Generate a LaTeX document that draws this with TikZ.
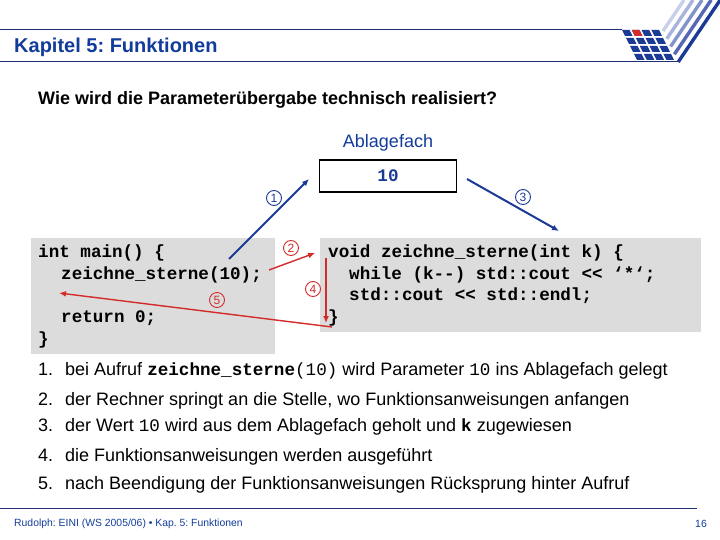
\documentclass[tikz,border=0pt]{standalone}
\usepackage{fontspec}
\setmainfont{Liberation Sans}
\setmonofont{Liberation Mono}
\usetikzlibrary{arrows.meta}
\frenchspacing
\definecolor{kapblau}{HTML}{123C9C}
\definecolor{linblau}{HTML}{1F2F70}
\definecolor{pfblau}{HTML}{1A3A96}
\definecolor{pfrot}{HTML}{D42A2A}
\definecolor{grau}{HTML}{DCDCDC}
\tikzset{
  txt/.style={anchor=west,inner sep=0pt,font=\fontsize{18}{21.6}\selectfont,text height=13pt,text depth=4pt},
  cd/.style={anchor=west,inner sep=0pt,font=\ttfamily\bfseries\fontsize{17.6}{21}\selectfont,text height=12pt,text depth=3pt},
  nr/.style={circle,draw,line width=0.9pt,inner sep=0pt,minimum size=15pt,font=\fontsize{12}{12}\selectfont},
  pf/.style={line width=1.4pt,-{Latex[length=7pt,width=6pt]}},
}
\newcommand{\cdin}[1]{{\ttfamily\fontsize{17.6}{21}\selectfont #1}}
\begin{document}
\begin{tikzpicture}[x=1pt,y=-1pt]
\useasboundingbox (0,0) rectangle (720,540);
% kopf
\draw[linblau,line width=1pt] (0,29.5)--(622,29.5);
\draw[linblau,line width=1pt] (0,62)--(678,62);
\node[txt,font=\bfseries\fontsize{20}{24}\selectfont,text=kapblau] (titel) at (14,48) {Kapitel 5: Funktionen};
% logo
\foreach \r in {0,1,2,3}{\foreach \c in {0,1,2,3}{
  \pgfmathsetmacro\xa{622+\c*9.8+\r*4}
  \pgfmathsetmacro\ya{30+\r*8}
  \fill[pfblau] (\xa,\ya)--++(7.6,0)--++(3,6)--++(-7.6,0)--cycle;
}}
\fill[pfrot] (631.8,30)--++(7.6,0)--++(3,6)--++(-7.6,0)--cycle;
\foreach \i/\f in {0/C8CFEA,1/A9B4DE,2/8393CC,3/5468B4,4/1A3A96}{
  \pgfmathsetmacro\xs{663+\i*3.8}
  \pgfmathsetmacro\ys{31+\i*7.75}
  \pgfmathsetmacro\xe{\xs+\ys*42/62}
  \definecolor{strf}{HTML}{\f}
  \draw[strf,line width=3.4pt] (\xs,\ys)--(\xe,0);
}
\node[txt,font=\bfseries\fontsize{18}{21.6}\selectfont] (frage) at (38,100) {Wie wird die Parameterübergabe technisch realisiert?};
% ablagefach
\node[txt,anchor=center,text=kapblau] (ablage) at (388,143) {Ablagefach};
\node[draw,line width=1.5pt,minimum width=137pt,minimum height=32pt,inner sep=0pt,text=pfblau,font=\ttfamily\bfseries\fontsize{17.6}{21}\selectfont] (fach) at (388,176) {10};
% code
\node[fill=grau,minimum width=244pt,minimum height=116pt,anchor=north west,inner sep=0pt] (mainbox) at (31,238) {};
\node[fill=grau,minimum width=381pt,minimum height=94pt,anchor=north west,inner sep=0pt] (fnbox) at (320,238) {};
\node[cd] (m1) at (38,253) {int main() \{};
\node[cd] (m2) at (61,275) {zeichne\_sterne(10);};
\node[cd] (m3) at (61,318) {return 0;};
\node[cd] (m4) at (38,340) {\}};
\node[cd] (f1) at (328,253) {void zeichne\_sterne(int k) \{};
\node[cd] (f2) at (349,275) {while (k--) std::cout << ‘*‘;};
\node[cd] (f3) at (349,296) {std::cout << std::endl;};
\node[cd] (f4) at (328,318) {\}};
% pfeile
\coordinate (p1a) at (229,259); \coordinate (p1b) at (309,179);
\coordinate (p2a) at (269,270); \coordinate (p2b) at (315,253);
\coordinate (p3a) at (467,179); \coordinate (p3b) at (559,231);
\coordinate (p4a) at (326,258); \coordinate (p4b) at (326,323);
\coordinate (p5a) at (332,327); \coordinate (p5b) at (59,293);
\draw[pf,pfblau,line width=2pt] (p1a)--(p1b);
\draw[pf,pfrot] (p2a)--(p2b);
\draw[pf,pfblau,line width=2pt] (p3a)--(p3b);
\draw[pf,pfrot] (p4a)--(p4b);
\draw[pf,pfrot] (p5a)--(p5b);
\node[nr,pfblau] (n1) at (274,198) {1};
\node[nr,pfrot] (n2) at (291,248) {2};
\node[nr,pfblau] (n3) at (523,197) {3};
\node[nr,pfrot] (n4) at (313,289) {4};
\node[nr,pfrot] (n5) at (217,300) {5};
% liste
\node[txt] (z1) at (38,371) {1.};
\node[txt] (t1) at (65,371) {bei Aufruf \cdin{\textbf{zeichne\_sterne}(10)} wird Parameter \cdin{10} ins Ablagefach gelegt};
\node[txt] (z2) at (38,401) {2.};
\node[txt] (t2) at (65,401) {der Rechner springt an die Stelle, wo Funktionsanweisungen anfangen};
\node[txt] (z3) at (38,427) {3.};
\node[txt] (t3) at (65,427) {der Wert \cdin{10} wird aus dem Ablagefach geholt und \cdin{\textbf{k}} zugewiesen};
\node[txt] (z4) at (38,457) {4.};
\node[txt] (t4) at (65,457) {die Funktionsanweisungen werden ausgeführt};
\node[txt] (z5) at (38,485) {5.};
\node[txt] (t5) at (65,485) {nach Beendigung der Funktionsanweisungen Rücksprung hinter Aufruf};
% fuss
\draw[linblau,line width=1pt] (0,508)--(697,508);
\node[anchor=west,inner sep=0pt,font=\fontsize{10.4}{12}\selectfont,text=kapblau] (fuss) at (14,524) {Rudolph: EINI (WS 2005/06) \textbullet\ Kap. 5: Funktionen};
\node[anchor=east,inner sep=0pt,font=\fontsize{10.4}{12}\selectfont,text=kapblau] (seite) at (707,524) {16};
\end{tikzpicture}
\end{document}
